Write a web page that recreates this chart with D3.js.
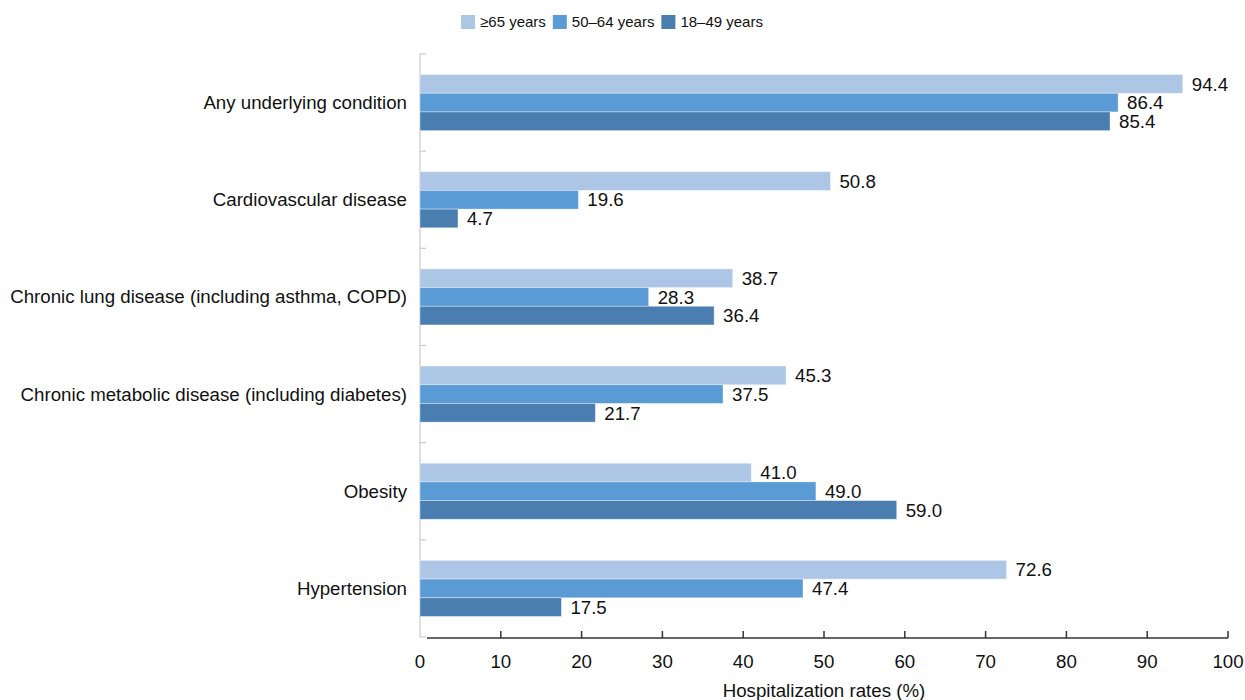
<!DOCTYPE html>
<html>
<head>
<meta charset="utf-8">
<script src="https://cdn.jsdelivr.net/npm/d3@7"></script>
<style>
  html, body { margin: 0; padding: 0; background: #fff; }
  svg { display: block; font-family: "Liberation Sans", Arial, sans-serif; }
</style>
</head>
<body>
<svg id="chart" width="1245" height="700"></svg>
<script>
const categories = [
  "Any underlying condition",
  "Cardiovascular disease",
  "Chronic lung disease (including asthma, COPD)",
  "Chronic metabolic disease (including diabetes)",
  "Obesity",
  "Hypertension"
];
const seriesNames = ["≥65 years", "50–64 years", "18–49 years"];
const seriesColors = ["#adc6e6", "#5b9bd5", "#4a7eb0"];
const values65plus = [94.4, 50.8, 38.7, 45.3, 41.0, 72.6];
const values50to64 = [86.4, 19.6, 28.3, 37.5, 49.0, 47.4];
const values18to49 = [85.4, 4.7, 36.4, 21.7, 59.0, 17.5];
const xTicks = [0, 10, 20, 30, 40, 50, 60, 70, 80, 90, 100];
const xTitle = "Hospitalization rates (%)";

const seriesValues = [values65plus, values50to64, values18to49];
const svg = d3.select("#chart");
const FS = 18.7;

const x = d3.scaleLinear().domain([0, 100]).range([420, 1228]);
const y = d3.scaleBand().domain(categories).range([54, 637]).padding(0);
const y1 = d3.scaleBand().domain(seriesNames).range([0, y.bandwidth()]).paddingInner(0).paddingOuter(1.1);

// Y axis (light gray) with boundary ticks
const yLine = svg.append("g");
yLine.append("line")
  .attr("x1", x(0)).attr("x2", x(0))
  .attr("y1", y.range()[0]).attr("y2", y.range()[1])
  .attr("stroke", "#c9c9c9").attr("stroke-width", 1.2);
const boundaries = categories.map(c => y(c)).concat([y.range()[1]]);
yLine.selectAll("line.tick").data(boundaries).enter().append("line")
  .attr("class", "tick")
  .attr("x1", x(0)).attr("x2", x(0) + 6)
  .attr("y1", d => d).attr("y2", d => d)
  .attr("stroke", "#c9c9c9").attr("stroke-width", 1.2);

// Category labels
svg.append("g").selectAll("text").data(categories).enter().append("text")
  .attr("x", 407)
  .attr("y", d => y(d) + y.bandwidth() / 2)
  .attr("dy", "0.35em")
  .attr("text-anchor", "end")
  .attr("font-size", FS)
  .attr("fill", "#111")
  .text(d => d);

// Bars
const groups = svg.append("g").selectAll("g").data(categories).enter().append("g")
  .attr("transform", d => `translate(0,${y(d)})`);
groups.selectAll("rect").data((c, i) => seriesNames.map((s, j) => ({ s, j, v: seriesValues[j][i] })))
  .enter().append("rect")
  .attr("x", x(0))
  .attr("y", d => y1(d.s))
  .attr("width", d => x(d.v) - x(0))
  .attr("height", y1.bandwidth())
  .attr("fill", d => seriesColors[d.j])
  .attr("stroke", "#ffffff")
  .attr("stroke-opacity", 0.45)
  .attr("stroke-width", 0.8);
groups.selectAll("text").data((c, i) => seriesNames.map((s, j) => ({ s, j, v: seriesValues[j][i] })))
  .enter().append("text")
  .attr("x", d => x(d.v) + 9)
  .attr("y", d => y1(d.s) + y1.bandwidth() / 2)
  .attr("dy", "0.36em")
  .attr("font-size", FS)
  .attr("fill", "#111")
  .text(d => d.v.toFixed(1));

// X axis
const axisY = 638;
const xAxis = svg.append("g");
xAxis.append("line")
  .attr("x1", x(0) + 7).attr("x2", x(100))
  .attr("y1", axisY).attr("y2", axisY)
  .attr("stroke", "#333").attr("stroke-width", 1.5);
xAxis.selectAll("line.tick").data(xTicks.filter(t => t > 0)).enter().append("line")
  .attr("class", "tick")
  .attr("x1", d => x(d)).attr("x2", d => x(d))
  .attr("y1", axisY).attr("y2", axisY - 7)
  .attr("stroke", "#333").attr("stroke-width", 1.5);
xAxis.selectAll("text").data(xTicks).enter().append("text")
  .attr("x", d => x(d))
  .attr("y", 668)
  .attr("text-anchor", "middle")
  .attr("font-size", FS)
  .attr("fill", "#111")
  .text(d => d);
svg.append("text")
  .attr("x", 824).attr("y", 697)
  .attr("text-anchor", "middle")
  .attr("font-size", FS)
  .attr("fill", "#111")
  .text(xTitle);

// Legend
const legend = svg.append("g");
let lx = 0;
seriesNames.forEach((s, j) => {
  const g = legend.append("g");
  g.append("rect").attr("x", 0).attr("y", 15).attr("width", 14).attr("height", 14)
    .attr("fill", seriesColors[j]);
  const t = g.append("text").attr("x", 19).attr("y", 27)
    .attr("font-size", 15).attr("fill", "#111").text(s);
  const w = t.node().getComputedTextLength();
  g.attr("transform", `translate(${lx},0)`);
  lx += 19 + w + 7;
});
const totalW = lx - 7;
legend.attr("transform", `translate(${612 - totalW / 2},0)`);
</script>
</body>
</html>
